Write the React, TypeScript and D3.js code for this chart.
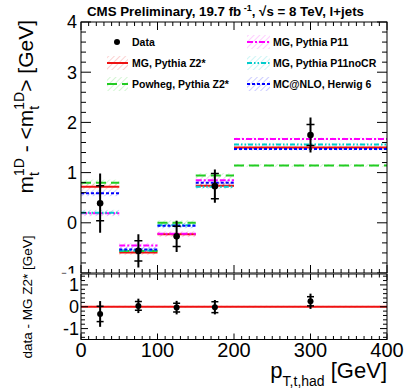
import React from 'react';
import * as d3 from 'd3';

// ---------- data ----------
const binEdges = [0, 50, 100, 150, 200, 400];
const binCenters = [25, 75, 125, 175, 300];
const dataValues = [0.39, -0.56, -0.27, 0.73, 1.75];
const dataStatErr = [0.35, 0.2, 0.2, 0.25, 0.21];
const dataTotErr = [0.59, 0.33, 0.31, 0.33, 0.35];
const diffValues = [-0.33, 0.04, -0.04, -0.02, 0.25];
const mgZ2 = [0.72, -0.59, -0.23, 0.74, 1.5];
const powhegZ2 = [0.8, -0.56, 0.0, 0.94, 1.14];
const mgP11 = [0.19, -0.45, -0.22, 0.85, 1.67];
const mgP11noCR = [0.2, -0.55, -0.05, 0.72, 1.56];
const mcAtNlo = [0.59, -0.53, -0.06, 0.8, 1.47];
const mcStatErr = [0.06, 0.05, 0.05, 0.05, 0.03];
const xTickLabels = [0, 100, 200, 300, 400];
const yUpperTickLabels = [-1, 0, 1, 2, 3, 4];
const yLowerTickLabels = [-1, 0, 1];

const series = [
  { key: 'z2', name: 'MG, Pythia Z2*', values: mgZ2, color: '#ee1111', dash: '', col: 0, row: 1 },
  { key: 'pow', name: 'Powheg, Pythia Z2*', values: powhegZ2, color: '#22cc22', dash: '10,5', col: 0, row: 2 },
  { key: 'p11', name: 'MG, Pythia P11', values: mgP11, color: '#ff00ff', dash: '6,2,2,2', col: 1, row: 0 },
  { key: 'p11nocr', name: 'MG, Pythia P11noCR', values: mgP11noCR, color: '#00cccc', dash: '5,2,1.5,2,1.5,2', col: 1, row: 1 },
  { key: 'nlo', name: 'MC@NLO, Herwig 6', values: mcAtNlo, color: '#0000ff', dash: '3,2', col: 1, row: 2 },
];

const FONT = '"Liberation Sans", Arial, Helvetica, sans-serif';

export default function App() {
  const W = 407, H = 391;
  const x = d3.scaleLinear().domain([0, 400]).range([81, 387]);
  const yU = d3.scaleLinear().domain([-1, 4]).range([273, 22]);
  const yL = d3.scaleLinear().domain([-1.5, 1.5]).range([339.5, 274]);

  const xMinor = d3.range(0, 401, 10);
  const yUMinor = d3.range(-1, 4.001, 0.2);
  const yLMinor = d3.range(-1.4, 1.41, 0.2);

  const [x0, x1] = x.range();

  const legendRows = [42, 63, 84];
  const legendCols = [{ s0: 107, s1: 128, t: 132 }, { s0: 247, s1: 270, t: 273 }];

  return (
    <svg width={W} height={H} style={{ position: 'absolute', left: 0, top: 0, background: '#fff' }} fontFamily={FONT}>
      <defs>
        {series.map((s) => (
          <pattern key={s.key} id={'hatch-' + s.key} patternUnits="userSpaceOnUse" width={4} height={4} patternTransform="rotate(45)">
            <line x1={0} y1={0} x2={0} y2={4} stroke={s.color} strokeWidth={1.3} strokeOpacity={0.3} />
          </pattern>
        ))}
        <clipPath id="upperClip">
          <rect x={0} y={0} width={W} height={273.5} />
        </clipPath>
      </defs>
      <rect x={0} y={0} width={W} height={H} fill="#fff" />

      {/* title */}
      <text x={87} y={16} fontSize={13.3} fontWeight="bold" fill="#000">
        CMS Preliminary, 19.7 fb
        <tspan dy={-5} fontSize={9}> -1</tspan>
        <tspan dy={5}>,  √s = 8 TeV, l+jets</tspan>
      </text>

      {/* ===== upper panel ===== */}
      <g clipPath="url(#upperClip)">
        {series.map((s) =>
          s.values.map((v, i) => (
            <rect key={s.key + 'b' + i} x={x(binEdges[i])} width={x(binEdges[i + 1]) - x(binEdges[i])}
              y={yU(v + mcStatErr[i])} height={yU(v - mcStatErr[i]) - yU(v + mcStatErr[i])}
              fill={`url(#hatch-${s.key})`} />
          ))
        )}
        {series.map((s) =>
          s.values.map((v, i) => (
            <g key={s.key + 'l' + i}>
              <line x1={x(binEdges[i])} x2={x(binEdges[i + 1])} y1={yU(v)} y2={yU(v)}
                stroke={s.color} strokeWidth={2} strokeDasharray={s.dash || undefined} />
              <line x1={x(binCenters[i])} x2={x(binCenters[i])} y1={yU(v + mcStatErr[i] * 0.5)} y2={yU(v - mcStatErr[i] * 0.5)}
                stroke={s.color} strokeWidth={1} />
            </g>
          ))
        )}
        {dataValues.map((v, i) => {
          const cx = x(binCenters[i]);
          return (
            <g key={'d' + i}>
              <line x1={cx} x2={cx} y1={yU(v + dataTotErr[i])} y2={yU(v - dataTotErr[i])} stroke="#000" strokeWidth={2} />
              <line x1={cx - 4} x2={cx + 4} y1={yU(v + dataStatErr[i])} y2={yU(v + dataStatErr[i])} stroke="#000" strokeWidth={1.5} />
              <line x1={cx - 4} x2={cx + 4} y1={yU(v - dataStatErr[i])} y2={yU(v - dataStatErr[i])} stroke="#000" strokeWidth={1.5} />
              <circle cx={cx} cy={yU(v)} r={3.3} fill="#000" />
            </g>
          );
        })}

        <rect x={x0} y={yU(4)} width={x1 - x0} height={yU(-1) - yU(4)} fill="none" stroke="#000" strokeWidth={1} />
        {xMinor.map((t) => {
          const major = t % 100 === 0;
          const len = major ? 8 : 4;
          return (
            <g key={'xu' + t}>
              <line x1={x(t)} x2={x(t)} y1={yU(4)} y2={yU(4) + len} stroke="#000" />
              <line x1={x(t)} x2={x(t)} y1={yU(-1)} y2={yU(-1) - len} stroke="#000" />
            </g>
          );
        })}
        {yUMinor.map((t, k) => {
          const major = k % 5 === 0;
          const len = major ? 10 : 5;
          return (
            <g key={'yu' + k}>
              <line x1={x0} x2={x0 + len} y1={yU(t)} y2={yU(t)} stroke="#000" />
              <line x1={x1} x2={x1 - len} y1={yU(t)} y2={yU(t)} stroke="#000" />
            </g>
          );
        })}
        {yUpperTickLabels.map((t) => (
          <text key={'yul' + t} x={77} y={yU(t)} dy="0.36em" textAnchor="end" fontSize={18} fill="#000">{t}</text>
        ))}
      </g>

      {/* legend */}
      <g>
        <circle cx={117} cy={legendRows[0]} r={3} fill="#000" />
        <text x={legendCols[0].t} y={legendRows[0]} dy="0.36em" fontSize={10.5} fontWeight="bold">Data</text>
        {series.map((s) => {
          const c = legendCols[s.col];
          const yy = legendRows[s.row];
          return (
            <g key={'lg' + s.key}>
              <rect x={c.s0} y={yy - 7} width={c.s1 - c.s0} height={14} fill={`url(#hatch-${s.key})`} />
              <line x1={c.s0} x2={c.s1} y1={yy} y2={yy} stroke={s.color} strokeWidth={2} strokeDasharray={s.dash || undefined} />
              <text x={c.t} y={yy} dy="0.36em" fontSize={10.5} fontWeight="bold">{s.name}</text>
            </g>
          );
        })}
      </g>

      {/* upper y title */}
      <text transform="translate(33,20) rotate(-90)" textAnchor="end" fontSize={21} fill="#000">
        m<tspan dy={-9} fontSize={14}>1D</tspan>
        <tspan dx={-17.9} dy={15} fontSize={14}>t</tspan>
        <tspan dx={14} dy={-6}>{' - <m'}</tspan>
        <tspan dy={-9} fontSize={14}>1D</tspan>
        <tspan dx={-17.9} dy={15} fontSize={14}>t</tspan>
        <tspan dx={14} dy={-6}>{'> [GeV]'}</tspan>
      </text>

      {/* ===== lower panel ===== */}
      <g>
        <rect x={x0} y={yL(0.05)} width={x1 - x0} height={yL(-0.05) - yL(0.05)} fill="url(#hatch-z2)" />
        <line x1={x0} x2={x1} y1={yL(0)} y2={yL(0)} stroke="#ee1111" strokeWidth={2} />
        {diffValues.map((v, i) => {
          const cx = x(binCenters[i]);
          return (
            <g key={'r' + i}>
              <line x1={cx} x2={cx} y1={yL(v + dataTotErr[i])} y2={yL(v - dataTotErr[i])} stroke="#000" strokeWidth={2} />
              <line x1={cx - 3.5} x2={cx + 3.5} y1={yL(v + dataStatErr[i])} y2={yL(v + dataStatErr[i])} stroke="#000" strokeWidth={1.5} />
              <line x1={cx - 3.5} x2={cx + 3.5} y1={yL(v - dataStatErr[i])} y2={yL(v - dataStatErr[i])} stroke="#000" strokeWidth={1.5} />
              <circle cx={cx} cy={yL(v)} r={3} fill="#000" />
            </g>
          );
        })}
        <rect x={x0} y={yL(1.5)} width={x1 - x0} height={yL(-1.5) - yL(1.5)} fill="none" stroke="#000" strokeWidth={1} />
        {xMinor.map((t) => {
          const major = t % 100 === 0;
          const len = major ? 6 : 3.5;
          return (
            <g key={'xl' + t}>
              <line x1={x(t)} x2={x(t)} y1={yL(1.5)} y2={yL(1.5) + len} stroke="#000" />
              <line x1={x(t)} x2={x(t)} y1={yL(-1.5)} y2={yL(-1.5) - len} stroke="#000" />
            </g>
          );
        })}
        {yLMinor.map((t, k) => {
          const major = Math.abs(t - Math.round(t)) < 1e-6;
          const len = major ? 7 : 4;
          return (
            <g key={'yl' + k}>
              <line x1={x0} x2={x0 + len} y1={yL(t)} y2={yL(t)} stroke="#000" />
              <line x1={x1} x2={x1 - len} y1={yL(t)} y2={yL(t)} stroke="#000" />
            </g>
          );
        })}
        {yLowerTickLabels.map((t) => (
          <text key={'yll' + t} x={79} y={yL(t)} dy="0.36em" textAnchor="end" fontSize={18} fill="#000">{t}</text>
        ))}
        {xTickLabels.map((t) => (
          <text key={'xll' + t} x={x(t)} y={357} textAnchor="middle" fontSize={20} fill="#000">{t}</text>
        ))}
      </g>

      {/* lower y title */}
      <text transform="translate(32,297) rotate(-90)" textAnchor="middle" fontSize={13.5} fill="#000">data - MG Z2* [GeV]</text>

      {/* x title */}
      <text x={387} y={377.5} textAnchor="end" fontSize={22} fill="#000">
        p<tspan dy={8} fontSize={14}>T,t,had</tspan>
        <tspan dy={-8}>{' [GeV]'}</tspan>
      </text>
    </svg>
  );
}
